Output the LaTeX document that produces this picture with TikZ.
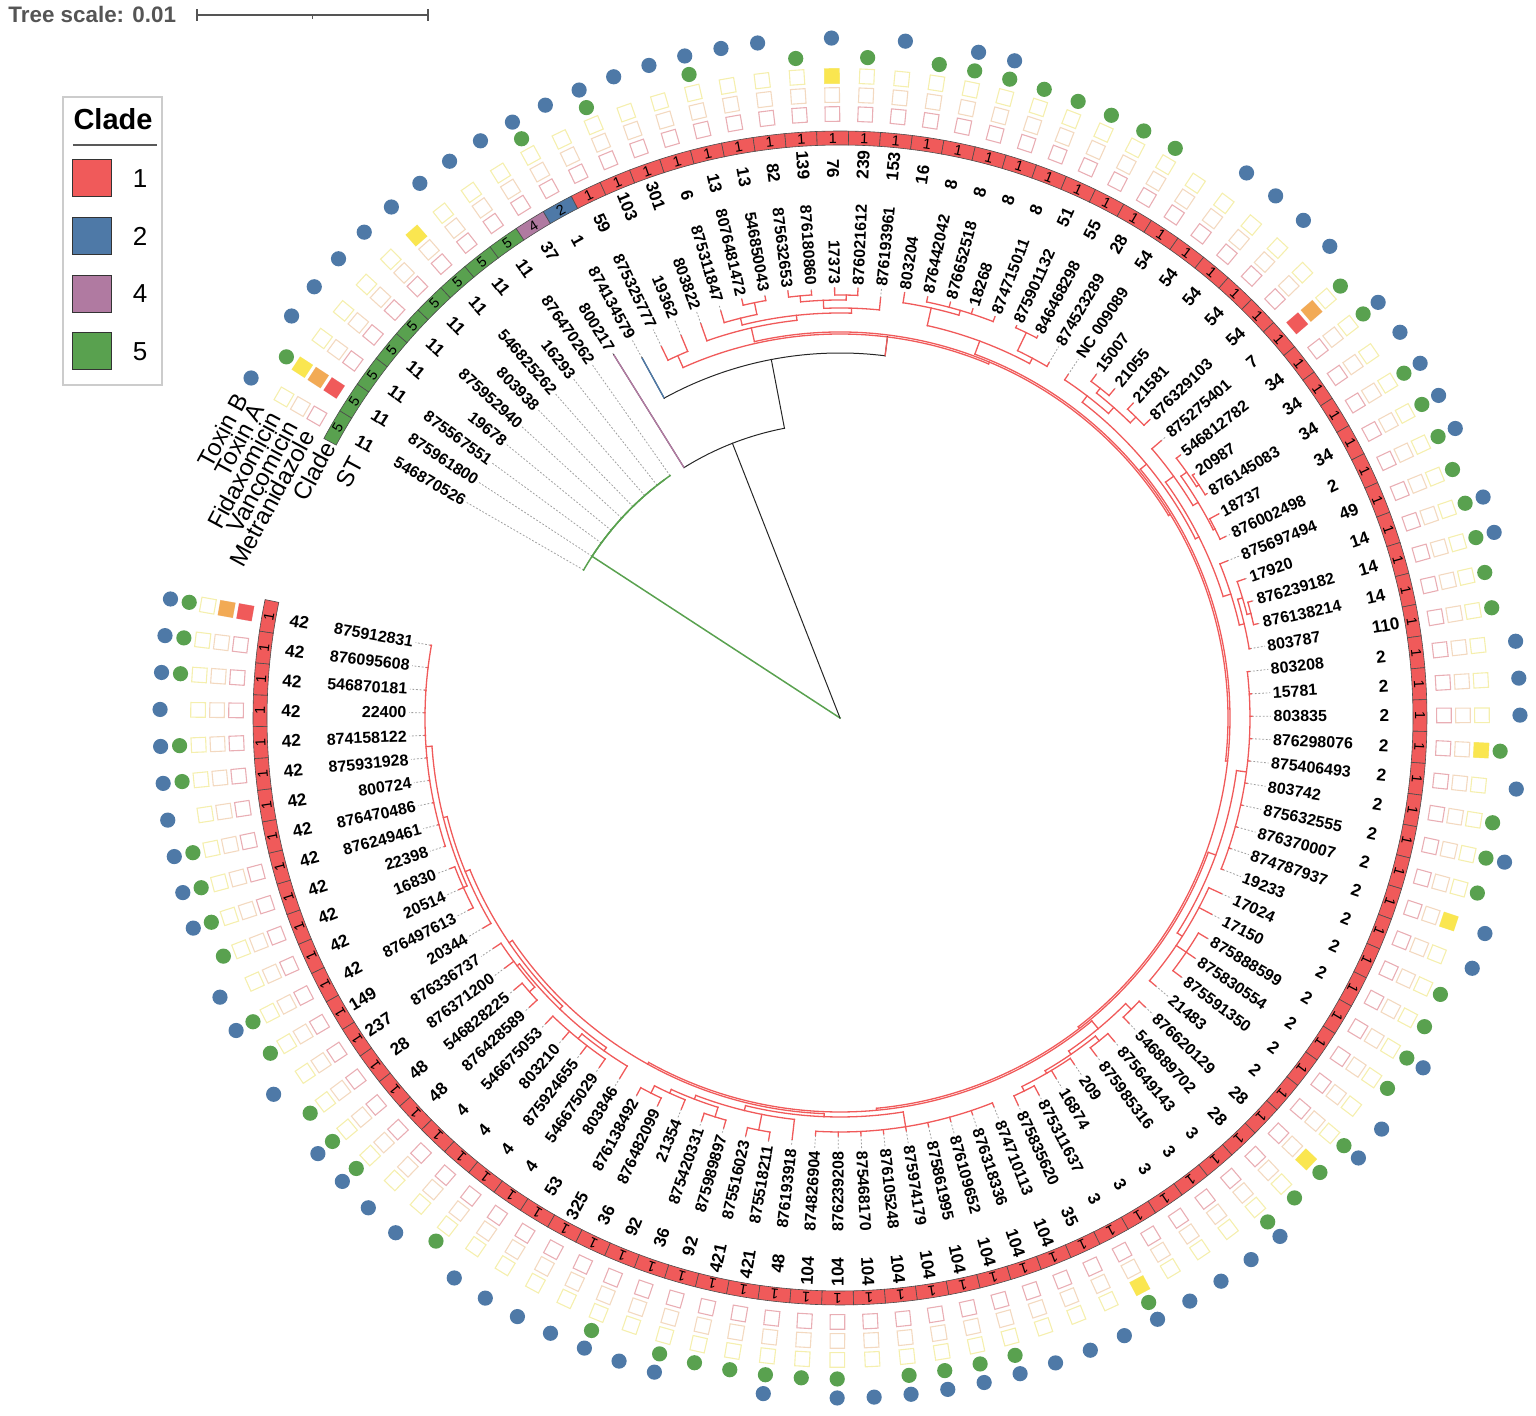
\documentclass[tikz,border=0pt]{standalone}
\usepackage{fontspec}
\setmainfont{Liberation Sans}
\usepackage{tikz}
\usetikzlibrary{positioning}
\definecolor{cred}{HTML}{F05A5A}
\definecolor{cblue}{HTML}{4E79A7}
\definecolor{cpurple}{HTML}{B07AA1}
\definecolor{cgreen}{HTML}{59A14F}
\definecolor{corange}{HTML}{F2AA55}
\definecolor{cyellow}{HTML}{FAE650}
\definecolor{mpink}{HTML}{E9AEB4}
\definecolor{vpeach}{HTML}{F3D9C0}
\definecolor{fyel}{HTML}{F5EFAE}
\definecolor{scalegray}{HTML}{555555}
\colorlet{cl1}{cred}
\colorlet{cl2}{cblue}
\colorlet{cl4}{cpurple}
\colorlet{cl5}{cgreen}
% tree node: name, radius, children
\newcommand\tn[3]{%
  \global\let\tnfa\relax
  \foreach \ch in {#3}{%
    \edef\cha{\csname na@\ch\endcsname}%
    \edef\chr{\csname nr@\ch\endcsname}%
    \draw[br] (\cha:#2) -- (\cha:\chr);
    \ifx\tnfa\relax\xdef\tnfa{\cha}\fi
    \xdef\tnla{\cha}%
  }%
  \draw[br] (\tnfa:#2) arc[start angle=\tnfa, end angle=\tnla, radius=#2];
  \pgfmathsetmacro\tnm{(\tnfa+\tnla)/2}%
  \expandafter\xdef\csname na@#1\endcsname{\tnm}%
  \expandafter\xdef\csname nr@#1\endcsname{#2}%
}
\newcommand\setang[2]{\expandafter\xdef\csname na@#1\endcsname{#2}}
\newcommand\ga[1]{\csname na@#1\endcsname}

\begin{document}
\begin{tikzpicture}[x=1pt,y=1pt]
% Styles
\tikzset{
    leaflab/.style={font=\fontsize{8}{9}\selectfont\bfseries, inner sep=0.6pt},
    stlab/.style={font=\fontsize{8.6}{10}\selectfont\bfseries, inner sep=0.6pt},
    bandnum/.style={font=\fontsize{7.2}{8}\selectfont, inner sep=0},
    band/.style={draw=black!70, line width=0.3pt},
    sq/.style={minimum size=7.3pt, inner sep=0, line width=0.55pt},
    sqf/.style={minimum size=7.6pt, inner sep=0},
    tokdot/.style={circle, minimum size=7.6pt, inner sep=0},
    leafdot/.style={gray!75, line width=0.4pt, dash pattern=on 0.9pt off 0.9pt},
    hdr/.style={font=\fontsize{12}{14}\selectfont, inner sep=0.5pt},
    legsq/.style={minimum width=19.5pt, minimum height=18.5pt, inner sep=0, draw=black!80, line width=0.5pt},
    legtxt/.style={font=\fontsize{13}{15}\selectfont, inner sep=0}
}
\useasboundingbox (-420,-349) rectangle (348,359);
% Leaves, labels, ST and clade band
\foreach \lk/\lid/\lst/\lcl/\ltip in {
  1/546870526/11/5/148, 2/875961800/11/5/148, 3/875567551/11/5/148,
  4/19678/11/5/148, 5/875952940/11/5/148, 6/803938/11/5/148,
  7/546825262/11/5/148, 8/16293/11/5/148, 9/876470262/11/5/148,
  10/800217/37/4/214, 11/874134579/1/2/205.5, 12/875325777/59/1/206,
  13/19362/103/1/207, 14/803822/301/1/209, 15/875311847/6/1/212,
  16/8076481472/13/1/215, 17/546850043/13/1/214, 18/875632653/82/1/215,
  19/876180860/139/1/214, 20/17373/76/1/215, 21/876021612/239/1/215,
  22/876193961/153/1/211, 23/803204/16/1/215, 24/876442042/8/1/215,
  25/876652518/8/1/215, 26/18268/8/1/215, 27/874715011/8/1/215,
  28/875901132/51/1/215, 29/846468298/55/1/215, 30/874523289/28/1/206,
  31/NC 009089/54/1/206, 32/15007/54/1/214, 33/21055/54/1/214,
  34/21581/54/1/215, 35/876329103/54/1/215, 36/875275401/7/1/212,
  37/546812782/34/1/215, 38/20987/34/1/215, 39/876145083/34/1/215,
  40/18737/34/1/215, 41/876002498/2/1/213, 42/875697494/49/1/209,
  43/17920/14/1/214, 44/876239182/14/1/214, 45/876138214/14/1/214,
  46/803787/110/1/208, 47/803208/2/1/206, 48/15781/2/1/206,
  49/803835/2/1/206, 50/876298076/2/1/206, 51/875406493/2/1/206,
  52/803742/2/1/206, 53/875632555/2/1/206, 54/876370007/2/1/206,
  55/874787937/2/1/206, 56/19233/2/1/206, 57/17024/2/1/210,
  58/17150/2/1/210, 59/875888599/2/1/214, 60/875830554/2/1/214,
  61/875591350/2/1/214, 62/21483/2/1/207, 63/876620129/28/1/210,
  64/546889702/28/1/210, 65/875649143/3/1/212, 66/875985316/3/1/212,
  67/209/3/1/209, 68/16874/3/1/210, 69/875311637/3/1/213,
  70/875835620/35/1/213, 71/874710113/104/1/209, 72/876318336/104/1/209,
  73/876109652/104/1/209, 74/875861995/104/1/209, 75/875974179/104/1/209,
  76/876105248/104/1/209, 77/875468170/104/1/209, 78/876239208/104/1/209,
  79/874826904/104/1/209, 80/876193918/48/1/212, 81/875518211/421/1/214,
  82/875516023/421/1/214, 83/875989897/92/1/213, 84/875420331/36/1/213,
  85/21354/92/1/211, 86/876482099/36/1/214, 87/876138492/325/1/214,
  88/803846/53/1/211, 89/546675029/4/1/212, 90/875924655/4/1/212,
  91/803210/4/1/212, 92/546675053/4/1/212, 93/876428589/48/1/212,
  94/546828225/48/1/212, 95/876371200/28/1/209, 96/876336737/237/1/208,
  97/20344/149/1/207, 98/876497613/42/1/209, 99/20514/42/1/209,
  100/16830/42/1/209, 101/22398/42/1/208, 102/876249461/42/1/208,
  103/876470486/42/1/208, 104/800724/42/1/208, 105/875931928/42/1/208,
  106/874158122/42/1/208, 107/22400/42/1/208, 108/546870181/42/1/208,
  109/876095608/42/1/208, 110/875912831/42/1/208}{
  \pgfmathsetmacro\lfa{150-(\lk-1)*3.12}
  \expandafter\xdef\csname na@\lk\endcsname{\lfa}
  \expandafter\xdef\csname nr@\lk\endcsname{\ltip}
  \pgfmathsetmacro\lrot{cos(\lfa)>0 ? \lfa : \lfa+180}
  \pgfmathtruncatemacro\lside{cos(\lfa)>0 ? 1 : 0}
  \ifnum\lside=1 \def\lanc{west}\else\def\lanc{east}\fi
  \ifdim\ltip pt<215.5pt \draw[leafdot] (\lfa:\ltip) -- (\lfa:215.5);\fi
  \node[leaflab, rotate=\lrot, anchor=\lanc] (lab\lk) at (\lfa:216) {\lid};
  \node[stlab, rotate=\lrot, anchor=\lanc] (st\lk) at (\lfa:269) {\lst};
  \pgfmathsetmacro\lfb{\lfa+1.56}
  \pgfmathsetmacro\lfc{\lfa-1.56}
  \filldraw[band, fill=cl\lcl] (\lfb:286.5) arc[start angle=\lfb, end angle=\lfc, radius=286.5]
    -- (\lfc:293.5) arc[start angle=\lfc, end angle=\lfb, radius=293.5] -- cycle;
  \node[bandnum, rotate=\lfa-90] (cl\lk) at (\lfa:290) {\lcl};
  \node[sq, draw=mpink, rotate=\lfa] (m\lk) at (\lfa:302) {};
  \node[sq, draw=vpeach, rotate=\lfa] (v\lk) at (\lfa:311.5) {};
  \node[sq, draw=fyel, rotate=\lfa] (f\lk) at (\lfa:321) {};
}
% Resistance
\foreach \lk in {2,36,110}{
  \edef\lfa{\ga{\lk}}
  \node[sqf, fill=cred, rotate=\lfa] (mr\lk) at (\lfa:302) {};
  \node[sqf, fill=corange, rotate=\lfa] (vr\lk) at (\lfa:311.5) {};
}
\foreach \lk in {2,7,20,50,55,63,69}{
  \edef\lfa{\ga{\lk}}
  \node[sqf, fill=cyellow, rotate=\lfa] (fr\lk) at (\lfa:321) {};
}
% Toxins
\foreach \lk in {2,11,13,16,19,21,23,24,25,26,27,28,29,30,36,37,39,40,41,42,43,44,45,46,50,52,53,54,57,58,59,60,62,63,64,65,69,73,74,75,76,78,79,80,81,82,83,85,90,93,94,95,97,98,100,101,102,103,105,106,108,109,110}{
  \edef\lfa{\ga{\lk}}
  \node[tokdot, fill=cgreen] (ta\lk) at (\lfa:330.5) {};
}
\foreach \lk in {1,3,4,5,6,7,8,9,10,11,12,13,14,15,16,17,18,20,22,24,25,32,33,34,35,37,38,39,40,41,43,44,47,48,49,51,53,55,56,59,61,62,65,66,67,68,69,70,71,72,73,74,75,76,77,78,80,83,84,85,86,87,88,89,91,92,93,94,96,98,99,101,102,103,104,105,106,107,108,109,110}{
  \edef\lfa{\ga{\lk}}
  \node[tokdot, fill=cblue] (tb\lk) at (\lfa:340) {};
}
% Ring headers
\foreach \hrad/\htxt [count=\hi] in {274/ST, 290/Clade, 302/Metranidazole, 311.5/Vancomicin, 321/Fidaxomicin, 330.5/Toxin A, 340/Toxin B}
  \node[hdr, rotate=61.6, anchor=east] (hdr\hi) at (151.6:\hrad) {\htxt};
% Green clade
\begin{scope}[br/.style={cgreen, line width=0.75pt, line cap=rect}]
\tn{g8}{148}{8,9}
\tn{g7}{148}{7,g8}
\tn{g6}{148}{6,g7}
\tn{g5}{148}{5,g6}
\tn{g4}{148}{4,g5}
\tn{g3}{148}{3,g4}
\tn{g2}{148}{2,g3}
\tn{g1}{148}{1,g2}
\edef\tmpa{\ga{g1}}
\draw[br] (0,0) -- (\tmpa:148);
\end{scope}
% Red clade
\begin{scope}[br/.style={cred, line width=0.65pt, line cap=rect}]
\tn{t1}{198.5}{12,13}
\tn{b2d}{212}{16,17}
\tn{b2b}{206}{15,b2d}
\tn{b2f}{212}{18,19}
\tn{b2g}{211.5}{20,21}
\tn{b2e}{209}{b2f,b2g}
\tn{b2c}{205}{b2e,22}
\tn{b2a}{202.5}{b2b,b2c}
\tn{b2}{200}{14,b2a}
\tn{b4c}{212.5}{24,25,26,27}
\tn{b4a}{210}{23,b4c}
\tn{b4d}{214}{28,29}
\tn{b4b}{204}{b4d,30}
\tn{b4}{201}{b4a,b4b}
\tn{b6d}{210}{32,33}
\tn{b6e}{211}{34,35}
\tn{b6c}{207}{b6d,b6e}
\tn{b6a}{203}{31,b6c}
\tn{b6m}{214}{38,39}
\tn{b6i}{212.5}{37,b6m}
\tn{b6j}{210}{40,41}
\tn{b6h}{209}{b6i,b6j}
\tn{b6f}{206}{36,b6h}
\tn{b6n}{212}{44,45}
\tn{b6l}{210}{43,b6n}
\tn{b6k}{207.5}{b6l,46}
\tn{b6g}{205}{42,b6k}
\tn{b6b}{201}{b6f,b6g}
\tn{b6}{199}{b6a,b6b}
\tn{b8a}{205}{47,...,56}
\tn{b8c}{209}{59,60,61}
\tn{b8b}{203}{57,58,b8c,62}
\tn{b8}{200}{b8a,b8b}
\tn{b10a}{206}{63,64}
\tn{b10c}{207}{65,66}
\tn{b10e}{208}{69,70}
\tn{b10d}{205.5}{67,68,b10e}
\tn{b10b}{204}{b10c,b10d}
\tn{b10}{202}{b10a,b10b}
\tn{b12a}{207}{71,...,79}
\tn{b12c}{210}{81,82}
\tn{b12e}{209}{83,84}
\tn{b12g}{210}{86,87}
\tn{b12f}{206}{85,b12g}
\tn{b12d}{204}{b12e,b12f}
\tn{b12b}{202}{80,b12c,b12d}
\tn{b12}{199.5}{b12a,b12b}
\tn{b13d}{207}{89,...,92}
\tn{b13c}{204}{88,b13d}
\tn{b13f}{207}{93,94}
\tn{b13e}{203.5}{b13f,95,96}
\tn{b13a}{202}{b13c,b13e}
\tn{b13h}{206.5}{98,99,100}
\tn{b13i}{207.5}{101,...,110}
\tn{b13g}{204.5}{b13h,b13i}
\tn{b13b}{202.5}{97,b13g}
\tn{b13}{200}{b13a,b13b}
\tn{b11}{198}{b12,b13}
\tn{b9}{197}{b10,b11}
\tn{b7}{196}{b8,b9}
\tn{b5}{195}{b6,b7}
\tn{b3}{194}{b4,b5}
\tn{b1}{193}{b2,b3}
\tn{r0}{192}{t1,b1}
\end{scope}
\setang{r0}{82.9}
% Backbone
\begin{scope}[br/.style={black!85, line width=0.5pt, line cap=rect}]
\tn{k2}{182.5}{11,r0}
\tn{k1}{147.5}{10,k2}
\edef\tmpa{\ga{k1}}
\draw[br] (0,0) -- (\tmpa:147.5);
\end{scope}
\edef\tmpa{\ga{10}}
\draw[cpurple, line width=0.7pt] (\tmpa:147.5) -- (\tmpa:214);
\edef\tmpa{\ga{11}}
\draw[cblue, line width=0.7pt] (\tmpa:182.5) -- (\tmpa:205.5);
\draw[cred, line width=0.65pt] (82.9:182.5) -- (82.9:192);
% Legend
\draw[gray!40, line width=0.8pt] (-388.5,310.5) rectangle (-339,166.5);
\node[font=\fontsize{14.5}{16}\selectfont\bfseries] (legtitle) at (-363.5,299.5) {Clade};
\draw[black!65, line width=0.7pt] (-383.5,286.5) -- (-341.5,286.5);
\foreach \li/\ly in {1/269.75, 2/240.75, 4/212, 5/183.25}{
  \node[legsq, fill=cl\li] (leg\li) at (-373.75,\ly) {};
  \node[legtxt, right=10pt of leg\li] (legt\li) {\li};
}
% Tree scale
\node[font=\fontsize{11.2}{13}\selectfont\bfseries, text=scalegray, anchor=west, inner sep=0] (tscale) at (-416,351.5) {Tree scale: 0.01};
\draw[scalegray, line width=0.6pt] (-321.5,351.5) -- (-206,351.5);
\draw[scalegray, line width=0.6pt] (-321.5,348.5) -- (-321.5,354.5);
\draw[scalegray, line width=0.6pt] (-206,348.5) -- (-206,354.5);
\draw[scalegray, line width=0.6pt] (-263.75,351.5) -- (-263.75,349.5);
\end{tikzpicture}
\end{document}
